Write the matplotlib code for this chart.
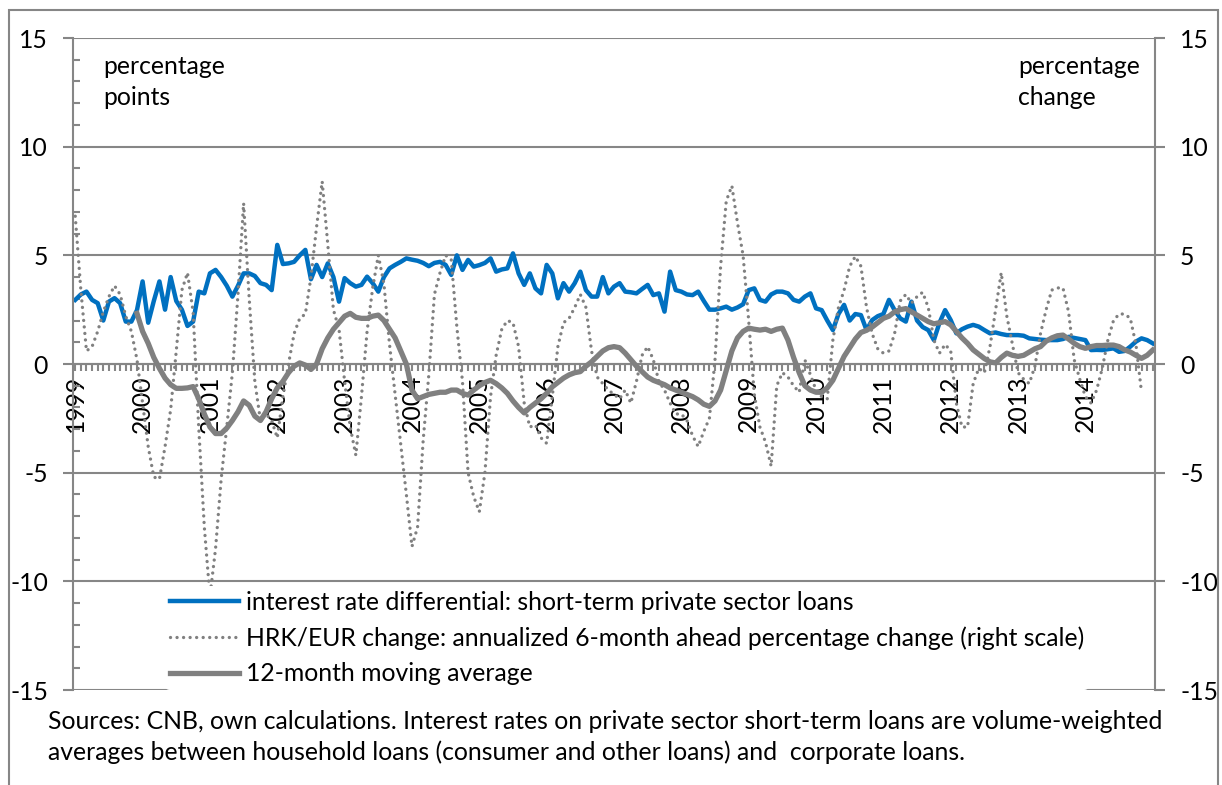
import numpy as np
import matplotlib.pyplot as plt
from matplotlib.patches import Rectangle
from matplotlib.ticker import MultipleLocator, FixedLocator, FixedFormatter

plt.rcParams['font.family'] = ['Lato', 'DejaVu Sans']
plt.rcParams['axes.unicode_minus'] = False

# monthly data, Jan 1999 - Jan 2015
years = [str(y) for y in range(1999, 2015)]

differential = [
    2.95, 3.2, 3.33, 2.95, 2.8, 2.0, 2.87, 3.03, 2.8, 1.95, 1.95, 2.48,
    3.8, 1.9, 2.9, 3.8, 2.5, 4.0, 2.9, 2.5, 1.75, 1.95, 3.33, 3.25,
    4.17, 4.33, 4.0, 3.6, 3.1, 3.6, 4.17, 4.17, 4.05, 3.72, 3.64, 3.4,
    5.48, 4.6, 4.63, 4.7, 5.0, 5.25, 3.9, 4.56, 4.0, 4.63, 4.0, 2.87,
    3.95, 3.72, 3.56, 3.64, 4.02, 3.72, 3.33, 4.0, 4.4, 4.56, 4.7, 4.86,
    4.8, 4.75, 4.65, 4.5, 4.65, 4.7, 4.56, 4.1, 5.0, 4.33, 4.79, 4.48,
    4.55, 4.65, 4.86, 4.25, 4.35, 4.4, 5.09, 4.17, 3.64, 4.17, 3.48, 3.25,
    4.56, 4.17, 3.02, 3.72, 3.33, 3.72, 4.25, 3.4, 3.1, 3.1, 4.0, 3.25,
    3.56, 3.72, 3.33, 3.3, 3.25, 3.45, 3.64, 3.17, 3.25, 2.41, 4.25, 3.4,
    3.33, 3.2, 3.17, 3.33, 2.9, 2.5, 2.5, 2.56, 2.64, 2.5, 2.6, 2.75,
    3.4, 3.48, 2.95, 2.87, 3.2, 3.33, 3.33, 3.25, 2.95, 2.87, 3.1, 3.25,
    2.56, 2.48, 2.0, 1.56, 2.3, 2.72, 2.0, 2.3, 2.25, 1.56, 2.02, 2.2,
    2.3, 2.95, 2.48, 2.1, 1.95, 2.87, 2.0, 1.7, 1.56, 1.1, 1.9, 2.48,
    2.02, 1.41, 1.6, 1.72, 1.8, 1.72, 1.56, 1.41, 1.45, 1.38, 1.33, 1.33,
    1.33, 1.3, 1.18, 1.15, 1.12, 1.1, 1.1, 1.1, 1.15, 1.25, 1.2, 1.15,
    1.1, 0.64, 0.65, 0.64, 0.68, 0.72, 0.56, 0.6, 0.8, 1.03, 1.18, 1.1,
    0.95,
]

hrk_eur = [
    6.8, 3.4, 0.6, 0.8, 1.5, 2.4, 3.1, 3.6, 3.2, 2.2, 1.5, 0.2,
    -1.8, -3.8, -5.2, -5.3, -3.8, -2.1, 0.6, 3.4, 4.2, 2.4, -2.9, -7.5,
    -10.7, -8.5, -5.3, -2.9, -0.4, 3.2, 7.4, 3.0, -0.8, -2.6, -2.3, -2.6,
    -3.4, -1.5, 0.0, 1.4, 2.1, 2.3, 4.0, 6.3, 8.4, 5.5, 2.5, 1.6,
    -0.8, -2.9, -4.2, -1.5, 1.5, 3.5, 5.0, 3.7, 0.9, -1.4, -3.7, -6.0,
    -8.4, -7.5, -3.5, -0.5, 3.2, 4.2, 5.0, 4.8, 1.7, -0.8, -5.0, -6.1,
    -6.8, -5.0, -1.5, 0.4, 1.6, 2.0, 1.9, 0.8, -1.8, -2.9, -2.8, -3.4,
    -3.65, -1.5, 0.8, 1.9, 2.1, 2.6, 3.2, 2.6, 0.6, -0.6, -0.9, -1.2,
    -1.4, -1.6, -1.2, -1.8, -0.8, 0.4, 0.8, 0.2, -0.8, -1.2, -1.8, -2.3,
    -2.3, -2.6, -3.3, -3.8, -3.1, -2.5, 0.2, 4.5, 7.5, 8.2, 6.5, 5.0,
    2.0, -1.4, -2.9, -3.6, -4.7, -1.0, -0.4, -0.6, -1.0, -1.3, 0.2, -0.5,
    -1.2, -1.5, -1.6, 1.1, 2.6, 3.4, 4.5, 4.95, 4.5, 2.6, 1.4, 0.7,
    0.5, 0.6, 1.4, 2.9, 3.2, 2.8, 3.1, 3.3, 2.6, 1.1, 0.5, 0.9,
    0.6, -1.8, -2.9, -2.9, -0.9, -0.2, -0.4, 0.8, 2.5, 4.2, 2.2, 0.9,
    -0.4, -0.7, -0.9, -0.1, 1.4, 2.5, 3.4, 3.5, 3.5, 2.4, 0.2, -0.7,
    -1.5, -1.8, -1.2, -0.2, 1.1, 2.0, 2.3, 2.3, 2.1, 0.9, -1.3,
]

ma_start = 11  # Dec 1999
moving_avg = [
    2.33,
    1.5, 0.95, 0.3, -0.2, -0.65, -0.95, -1.12, -1.12, -1.1, -1.04, -1.6, -2.3,
    -2.9, -3.2, -3.2, -2.95, -2.6, -2.2, -1.7, -1.9, -2.4, -2.6, -2.2, -1.6,
    -1.1, -0.8, -0.4, -0.1, 0.05, -0.05, -0.25, 0.0, 0.7, 1.2, 1.6, 1.9,
    2.2, 2.33, 2.15, 2.1, 2.1, 2.2, 2.25, 2.0, 1.6, 1.2, 0.6, 0.0,
    -1.2, -1.6, -1.5, -1.4, -1.35, -1.3, -1.3, -1.2, -1.2, -1.35, -1.43, -1.2,
    -1.0, -0.85, -0.75, -0.9, -1.1, -1.35, -1.7, -2.0, -2.25, -2.0, -1.8, -1.6,
    -1.35, -1.05, -0.85, -0.65, -0.5, -0.4, -0.35, -0.1, 0.1, 0.35, 0.6, 0.75,
    0.8, 0.75, 0.5, 0.2, -0.1, -0.35, -0.6, -0.75, -0.85, -0.95, -1.1, -1.2,
    -1.3, -1.4, -1.5, -1.65, -1.85, -1.95, -1.7, -1.2, -0.3, 0.6, 1.2, 1.5,
    1.65, 1.6, 1.56, 1.6, 1.5, 1.6, 1.65, 1.1, 0.3, -0.4, -1.0, -1.2,
    -1.3, -1.3, -1.1, -0.75, -0.2, 0.35, 0.75, 1.15, 1.45, 1.55, 1.7, 1.9,
    2.1, 2.2, 2.4, 2.5, 2.55, 2.4, 2.25, 2.1, 1.95, 1.85, 1.9, 1.95,
    1.8, 1.5, 1.2, 0.95, 0.65, 0.45, 0.25, 0.1, 0.05, 0.3, 0.5, 0.4,
    0.35, 0.4, 0.55, 0.7, 0.8, 1.05, 1.2, 1.3, 1.33, 1.15, 0.95, 0.8,
    0.72, 0.8, 0.85, 0.85, 0.87, 0.87, 0.8, 0.65, 0.55, 0.4, 0.26, 0.4,
    0.64,
]

labels = [
    'interest rate differential: short-term private sector loans',
    'HRK/EUR change: annualized 6-month ahead percentage change (right scale)',
    '12-month moving average',
]
source = ('Sources: CNB, own calculations. Interest rates on private sector short-term loans are volume-weighted\n'
          'averages between household loans (consumer and other loans) and  corporate loans.')

W, H = 1222, 785
def fx(px):
    return px / W
def fy(py):
    return 1 - py / H

grey = '#868686'
blue = '#0070C0'
lgrey = '#808080'
fs = 17.8

fig = plt.figure(figsize=(W / 100, H / 100), dpi=100)
ax = fig.add_axes([fx(73), fy(690), fx(1155) - fx(73), fy(38) - fy(690)])
ax2 = ax.twinx()

m = np.arange(len(differential))
l1, = ax.plot(m, differential, color=blue, lw=3.2, solid_joinstyle='round')
l2, = ax2.plot(m[:len(hrk_eur)], hrk_eur, color=lgrey, lw=2.4,
               linestyle=(0, (0.01, 1.95)), dash_capstyle='round')
l3, = ax2.plot(m[ma_start:ma_start + len(moving_avg)], moving_avg, color=lgrey, lw=3.8,
               solid_joinstyle='round')

for a in (ax, ax2):
    a.set_ylim(-15, 15)
    a.set_xlim(-0.4, len(differential) - 0.6)
    a.set_yticks(range(-15, 16, 5))

ax.yaxis.set_minor_locator(MultipleLocator(1))
ax.grid(axis='y', which='major', color=grey, lw=1.5)
ax.tick_params(axis='y', which='major', direction='out', length=7, width=1.5,
               color=grey, pad=11, labelsize=fs)
ax.tick_params(axis='y', which='minor', direction='in', length=5, width=1.5, color=grey)
ax2.tick_params(axis='y', which='major', direction='out', length=7, width=1.5,
                color=grey, pad=11, labelsize=fs)

ax.xaxis.set_major_locator(FixedLocator(np.arange(0, 12 * len(years), 12)))
ax.xaxis.set_major_formatter(FixedFormatter(years))
ax.xaxis.set_minor_locator(MultipleLocator(1))
ax.tick_params(axis='x', which='both', direction='out', length=5, width=1.5,
               color=grey, pad=3)
ax.tick_params(axis='x', which='major', labelsize=fs, labelrotation=90)

ax.spines['bottom'].set_position(('data', 0))
for s in ('bottom', 'left'):
    ax.spines[s].set_color(grey)
    ax.spines[s].set_linewidth(1.5)
for s in ('top', 'right'):
    ax.spines[s].set_visible(False)
for s in ('top', 'bottom', 'left'):
    ax2.spines[s].set_visible(False)
ax2.spines['right'].set_color(grey)
ax2.spines['right'].set_linewidth(1.5)

leg = fig.legend([l1, l2, l3], labels, loc='upper left',
                 bbox_to_anchor=(fx(165), fy(586)), fontsize=fs, frameon=True,
                 facecolor='white', edgecolor='none', framealpha=1, borderpad=0.2,
                 borderaxespad=0, handlelength=2.8, handletextpad=0.28, labelspacing=0.5)

fig.text(fx(103), fy(55), 'percentage\npoints', ha='left', va='top', fontsize=fs, linespacing=1.4)
fig.text(fx(1018), fy(55), 'percentage\nchange', ha='left', va='top', fontsize=fs, linespacing=1.4)
fig.text(fx(48), fy(710), source, ha='left', va='top', fontsize=fs, linespacing=1.4)

fig.add_artist(Rectangle((fx(9), fy(795)), fx(1218) - fx(9), fy(10) - fy(795),
                         transform=fig.transFigure, fill=False, edgecolor=grey, lw=1.5))

fig.savefig('out.png', dpi=100)
